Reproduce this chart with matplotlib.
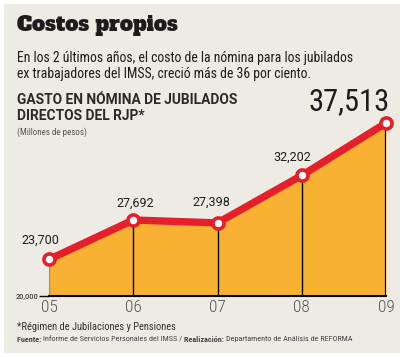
import numpy as np
import matplotlib.pyplot as plt

# Datos
years = [2005, 2006, 2007, 2008, 2009]
year_labels = ["05", "06", "07", "08", "09"]
gasto = [23700, 27692, 27398, 32202, 37513]
point_labels = ["23,700", "27,692", "27,398", "32,202", ""]

BG = "#eeebe5"
ORANGE = "#f8b133"
RED = "#e5202b"
DARK = "#1c1c1c"
GREY = "#555555"
COND = ["Roboto Condensed", "DejaVu Sans"]

fig = plt.figure(figsize=(4.0, 3.57), dpi=100, facecolor="white")

# fondo beige
bg = fig.add_axes([4 / 400, 4 / 357, 396 / 400, 349 / 357])
bg.set_facecolor(BG)
bg.set_xticks([])
bg.set_yticks([])
for s in bg.spines.values():
    s.set_visible(False)

# Grafica
ax = fig.add_axes([49 / 400, (357 - 296) / 357, (386 - 49) / 400, 197.6 / 357])
ax.set_facecolor("none")
ax.set_xlim(2005, 2009)
ax.set_ylim(20000, 40000)
ax.fill_between(years, gasto, 20000, color=ORANGE, lw=0, zorder=1)
ax.vlines(years[1:-1], 20000, gasto[1:-1], color="black", lw=1.0, zorder=2)
ax.vlines(years[-1], 20000, gasto[-1], color="black", lw=1.6, zorder=2)
ax.vlines(years[0], 20000, gasto[0], color="#9a8a70", lw=1.0, zorder=2)
ax.plot([years[0], years[-1]], [20000, 20000], color="black", lw=1.5, zorder=3,
        clip_on=False)
ax.plot(years, gasto, color=RED, lw=5.3, zorder=4, solid_capstyle="round",
        clip_on=False)
ax.plot(years, gasto, "o", ms=8, mfc="white", mec=RED, mew=2.6, zorder=5,
        clip_on=False)

for s in ax.spines.values():
    s.set_visible(False)
ax.set_xticks(years)
ax.set_xticklabels(year_labels, family=COND, weight="light", fontsize=12.5, color=GREY)
ax.tick_params(axis="x", length=0, pad=3)
ax.set_yticks([20000])
ax.set_yticklabels(["20,000"], family=COND, fontsize=6, color=DARK)
ax.tick_params(axis="y", length=7, width=1, pad=0.5)

offsets = [(-6.5, 13.7), (1.4, 12.2), (-4.3, 15), (-7.2, 13)]
for x, y, lab, off in zip(years, gasto, point_labels, offsets):
    if lab:
        ax.annotate(lab, (x, y), xytext=off, textcoords="offset points",
                    ha="center", va="center", family="Roboto", fontsize=9,
                    color=DARK)

# Textos
fig.text(17 / 400, 1 - 25 / 357, "Costos propios", family="Alfa Slab One",
         fontsize=15, color=DARK, va="center")
fig.text(17 / 400, 1 - 58 / 357, "En los 2 últimos años, el costo de la nómina para los jubilados",
         family=COND, fontsize=9.9, color=DARK, va="center")
fig.text(17 / 400, 1 - 74 / 357, "ex trabajadores del IMSS, creció más de 36 por ciento.",
         family=COND, fontsize=9.9, color=DARK, va="center")
fig.text(17 / 400, 1 - 100 / 357, "GASTO EN NÓMINA DE JUBILADOS",
         family="Roboto", weight="bold", fontsize=9.9, color="#2a2a2a", va="center")
fig.text(17 / 400, 1 - 116 / 357, "DIRECTOS DEL RJP*",
         family="Roboto", weight="bold", fontsize=9.9, color="#2a2a2a", va="center")
fig.text(17 / 400, 1 - 132 / 357, "(Millones de pesos)",
         family=COND, fontsize=6.5, color=GREY, va="center")
fig.text(390 / 400, 1 - 102 / 357, "37,513", family=COND,
         fontsize=22, color=DARK, ha="right", va="center")

fig.text(17 / 400, 1 - 327 / 357, "*Régimen de Jubilaciones y Pensiones",
         family=COND, fontsize=7.6, color="#333333", va="center")

# linea de fuente con partes en negrita
fig.canvas.draw()
r = fig.canvas.get_renderer()
parts = [("Fuente: ", "bold"), ("Informe de Servicios Personales del IMSS / ", "normal"),
         ("Realización: ", "bold"), ("Departamento de Análisis de REFORMA", "normal")]
xpos = 17
for txt, w in parts:
    t = fig.text(xpos / 400, 1 - 339.5 / 357, txt, family=COND, weight=w,
                 fontsize=5.9, color="#444444", va="center")
    xpos += t.get_window_extent(r).width

fig.savefig("out.png", dpi=100, facecolor="white")
